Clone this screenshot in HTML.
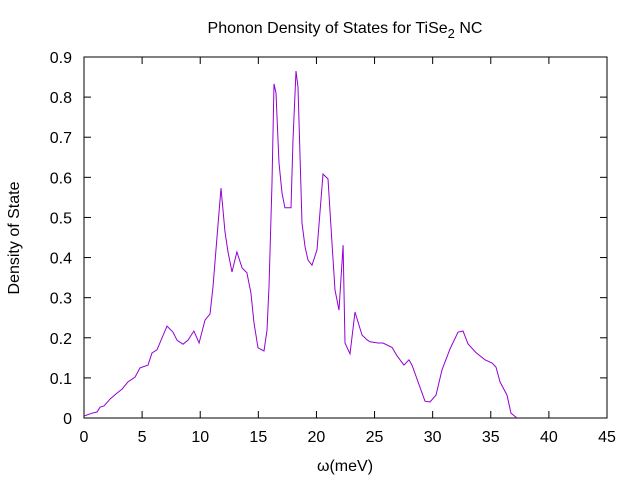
<!DOCTYPE html>
<html><head><meta charset="utf-8"><style>
body{margin:0;background:#fff}
svg{font-family:"Liberation Sans",sans-serif;font-size:16px}
</style></head><body>
<svg id="chart" width="640" height="480">
<text x="345" y="33" text-anchor="middle">Phonon Density of States for TiSe<tspan dy="5" font-size="13">2</tspan><tspan dy="-5"> NC</tspan></text>
<text transform="translate(19,238) rotate(-90)" text-anchor="middle">Density of State</text>
<text x="345" y="471" text-anchor="middle">ω(meV)</text>
<g id="axes"></g>
<g id="plot"></g>
</svg>
<script>
const xTicks=[0,5,10,15,20,25,30,35,40,45];
const yTicks=[0,0.1,0.2,0.3,0.4,0.5,0.6,0.7,0.8,0.9];
const yTickLabels=["0","0.1","0.2","0.3","0.4","0.5","0.6","0.7","0.8","0.9"];
const omega=[0,0.69,1.12,1.38,1.72,2.24,2.67,3.27,3.79,4.39,4.82,5.51,5.85,6.28,7.14,7.66,8.0,8.52,8.95,9.46,9.9,10.41,10.84,11.1,11.44,11.79,12.13,12.39,12.73,13.16,13.6,14.02,14.36,14.63,14.97,15.49,15.75,15.92,16.18,16.35,16.52,16.78,17.04,17.29,17.81,17.98,18.24,18.41,18.76,19.02,19.27,19.62,20.05,20.56,20.99,21.34,21.6,21.94,22.29,22.46,22.89,23.32,23.92,24.35,24.61,25.3,25.73,26.5,26.93,27.53,27.96,28.22,29.34,29.77,30.29,30.8,31.49,32.18,32.61,33.04,33.73,34.5,35.11,35.45,35.79,36.4,36.74,37.26];
const dos=[0.005,0.012,0.015,0.027,0.03,0.047,0.058,0.072,0.09,0.102,0.125,0.132,0.162,0.17,0.229,0.214,0.194,0.184,0.194,0.217,0.187,0.244,0.259,0.327,0.451,0.573,0.464,0.414,0.364,0.414,0.374,0.362,0.312,0.237,0.175,0.167,0.219,0.327,0.586,0.833,0.81,0.636,0.561,0.524,0.524,0.693,0.865,0.825,0.486,0.426,0.394,0.381,0.419,0.608,0.596,0.436,0.319,0.269,0.431,0.187,0.16,0.264,0.207,0.195,0.19,0.187,0.187,0.176,0.155,0.132,0.145,0.132,0.042,0.04,0.057,0.12,0.172,0.214,0.217,0.185,0.163,0.145,0.137,0.127,0.09,0.057,0.012,0];
const X0=84,X1=607,Y0=418,Y1=57;
const xs=v=>X0+(v-0)/45*(X1-X0);
const ys=v=>Y0-(v/0.9)*(Y0-Y1);
const NS="http://www.w3.org/2000/svg";
const axes=document.getElementById('axes'),plot=document.getElementById('plot');
function mk(tag,attrs,parent){const e=document.createElementNS(NS,tag);for(const k in attrs)e.setAttribute(k,attrs[k]);parent.appendChild(e);return e;}
const frame=mk('rect',{x:X0,y:Y1,width:X1-X0,height:Y0-Y1,fill:'none',stroke:'#000','stroke-width':1},axes);


xTicks.forEach(t=>{const x=xs(t);
 mk('line',{x1:x,y1:Y0,x2:x,y2:Y0-7,stroke:'#000'},axes);
 mk('line',{x1:x,y1:Y1,x2:x,y2:Y1+7,stroke:'#000'},axes);
 const tx=mk('text',{x:x,y:Y0+24,'text-anchor':'middle'},axes);tx.textContent=t;
 
 
});
yTicks.forEach((t,i)=>{const y=ys(t);
 mk('line',{x1:X0,y1:y,x2:X0+7,y2:y,stroke:'#000'},axes);
 mk('line',{x1:X1,y1:y,x2:X1-7,y2:y,stroke:'#000'},axes);
 const tx=mk('text',{x:X0-12,y:y+6,'text-anchor':'end'},axes);tx.textContent=yTickLabels[i];
 
 
});
const pl=mk('polyline',{points:omega.map((v,i)=>xs(v).toFixed(1)+','+ys(dos[i]).toFixed(1)).join(' '),fill:'none',stroke:'#9400d3','stroke-width':1},plot);


</script>
</body></html>
